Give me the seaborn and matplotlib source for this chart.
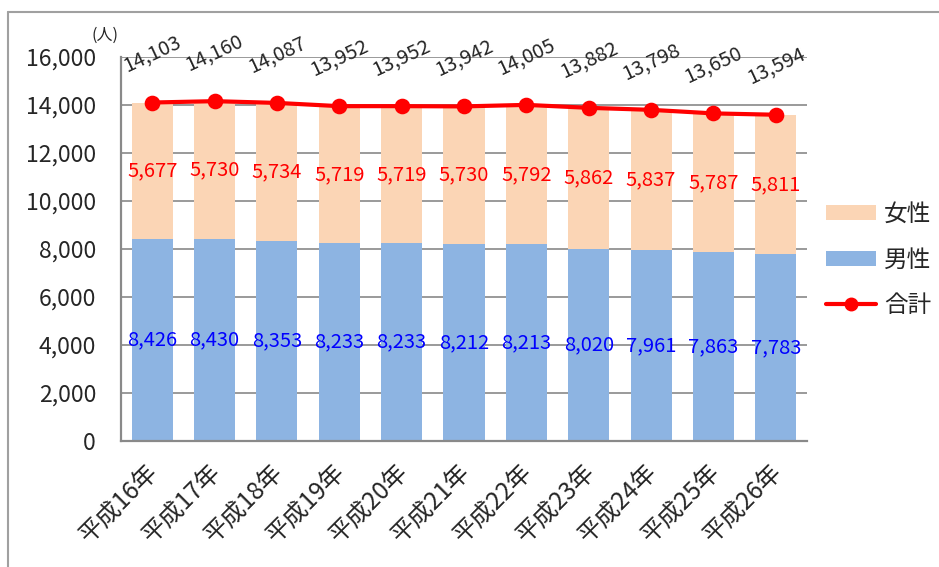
import matplotlib
matplotlib.use("Agg")
import matplotlib.pyplot as plt
import matplotlib.transforms as mtransforms
from matplotlib.lines import Line2D
from matplotlib.patches import Patch
from matplotlib.ticker import FuncFormatter
import seaborn as sns
import numpy as np

years = ["平成16年", "平成17年", "平成18年", "平成19年", "平成20年", "平成21年",
         "平成22年", "平成23年", "平成24年", "平成25年", "平成26年"]
male = [8426, 8430, 8353, 8233, 8233, 8212, 8213, 8020, 7961, 7863, 7783]
female = [5677, 5730, 5734, 5719, 5719, 5730, 5792, 5862, 5837, 5787, 5811]
total = [14103, 14160, 14087, 13952, 13952, 13942, 14005, 13882, 13798, 13650, 13594]
yticks = [0, 2000, 4000, 6000, 8000, 10000, 12000, 14000, 16000]

FEMALE_C = "#FBD5B5"
MALE_C = "#8DB4E2"
GRID_C = "#898989"

sns.set_style("white")
plt.rcParams["font.family"] = ["Noto Sans CJK JP", "DejaVu Sans"]

W, H = 939, 567
fig = plt.figure(figsize=(W / 100, H / 100), dpi=100)
ax = fig.add_axes([121 / W, 1 - 441 / H, (807 - 121) / W, (441 - 57) / H])

stack_top = np.array(male) + np.array(female)
sns.barplot(x=years, y=stack_top, color=FEMALE_C, saturation=1, width=0.66,
            ax=ax, zorder=2, linewidth=0)
sns.barplot(x=years, y=male, color=MALE_C, saturation=1, width=0.66,
            ax=ax, zorder=2, linewidth=0)
sns.pointplot(x=years, y=total, color="#FF0000", markers="o", markersize=9,
              linewidth=3, errorbar=None, ax=ax, zorder=5)

ax.set_xlim(-0.5, len(years) - 0.5)
ax.set_ylim(0, 16000)
ax.set_yticks(yticks)
ax.yaxis.set_major_formatter(FuncFormatter(lambda v, p: f"{int(v):,}"))
ax.set_axisbelow(True)
ax.grid(axis="y", color=GRID_C, linewidth=1.2, zorder=0)
ax.grid(axis="x", visible=False)
for s in ["top", "right"]:
    ax.spines[s].set_visible(False)
for s in ["left", "bottom"]:
    ax.spines[s].set_color(GRID_C)
    ax.spines[s].set_linewidth(1.6)
ax.set_xlabel("")
ax.set_ylabel("")
ax.tick_params(axis="y", length=0, pad=18, labelsize=16.5)
ax.tick_params(axis="x", length=0, pad=20, labelsize=17.5)
ax.set_xticks(range(len(years)))
ax.set_xticklabels(years, rotation=45, ha="right", va="center",
                   rotation_mode="anchor")
shift = mtransforms.ScaledTranslation(3 / 100, 0, fig.dpi_scale_trans)
for lab in ax.get_xticklabels():
    lab.set_transform(lab.get_transform() + shift)

for i in range(len(years)):
    ax.text(i, male[i] + female[i] / 2, f"{female[i]:,}", color="#FF0000",
            ha="center", va="center", fontsize=14.5, zorder=6)
    ax.text(i, male[i] / 2, f"{male[i]:,}", color="#0000FF",
            ha="center", va="center", fontsize=14.5, zorder=6)
    ax.annotate(f"{total[i]:,}", xy=(i, total[i]), xytext=(0, 35),
                textcoords="offset points", rotation=25, ha="center",
                va="center", fontsize=14.5, zorder=6, annotation_clip=False)

fig.text(105 / W, 1 - 35 / H, "(人)", fontsize=11.5, ha="center", va="center")

handles = [Patch(facecolor=FEMALE_C, edgecolor="none"),
           Patch(facecolor=MALE_C, edgecolor="none"),
           Line2D([], [], color="#FF0000", marker="o", lw=3, markersize=9)]
fig.legend(handles, ["女性", "男性", "合計"], loc="center left",
           bbox_to_anchor=(826 / W, 1 - 260 / H), frameon=False, fontsize=17,
           handlelength=2.1, handleheight=0.6, labelspacing=0.95,
           handletextpad=0.35, borderpad=0, borderaxespad=0)

fig.add_artist(Line2D([8 / W, 1], [1 - 12 / H, 1 - 12 / H],
                      transform=fig.transFigure, color="#A0A0A0", lw=1.5))
fig.add_artist(Line2D([8 / W, 8 / W], [0, 1 - 12 / H],
                      transform=fig.transFigure, color="#A0A0A0", lw=1.5))

fig.savefig("out.png", dpi=100)
